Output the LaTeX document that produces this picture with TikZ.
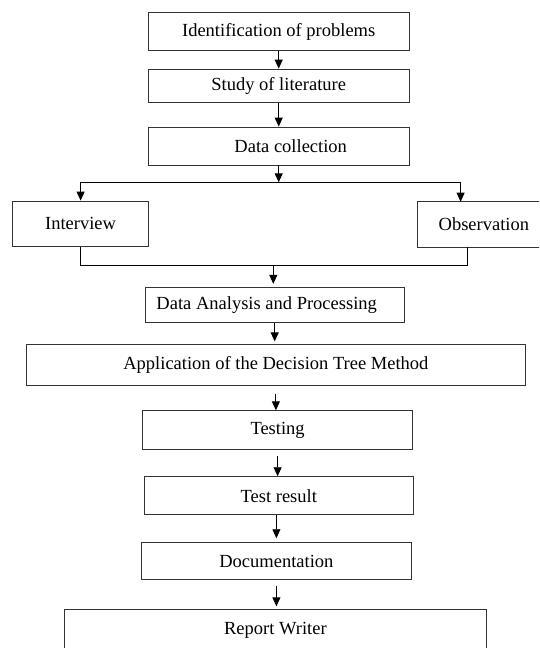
\documentclass[tikz,border=0pt]{standalone}
\usepackage{fontspec}
\setmainfont{Liberation Serif}
\usetikzlibrary{arrows.meta}

\begin{document}
\begin{tikzpicture}[x=1pt,y=-1pt,
  box/.style={draw=black!80, line width=0.9pt, inner sep=0pt, font=\fontsize{18.5}{22}\selectfont},
  link/.style={line width=0.9pt, color=black},
  >={Triangle[length=9pt,width=8pt]}]
\useasboundingbox (0,0) rectangle (539,648);
\clip (0,0) rectangle (539,648);
% steps of the study
\node[box, minimum width=260.5pt, minimum height=38.4pt] (ident) at (278.7,31.5) {Identification of problems};
\node[box, minimum width=260.5pt, minimum height=33.3pt] (study) at (278.7,85.7) {Study of literature};
\node[box, minimum width=260.5pt, minimum height=38pt] (collect) at (278.7,146) {\hspace*{24pt}Data collection};
\node[box, minimum width=136.4pt, minimum height=45.3pt] (iv) at (80.6,223.7) {Interview};
\node[box, minimum width=132.3pt, minimum height=45.3pt] (obs) at (483.9,224.3) {Observation};
\node[box, minimum width=258.6pt, minimum height=35.4pt] (analysis) at (274.7,305) {Data Analysis and Processing\hspace*{16pt}};
\node[box, minimum width=498.8pt, minimum height=40.7pt] (apply) at (275.9,364.7) {Application of the Decision Tree Method};
\node[box, minimum width=269.8pt, minimum height=38.3pt] (testing) at (277.6,429.9) {Testing};
\node[box, minimum width=269.5pt, minimum height=38pt] (result) at (278.8,495.7) {Test result};
\node[box, minimum width=270.2pt, minimum height=37pt] (docu) at (276.4,561.2) {Documentation};
\node[box, minimum width=422.1pt, minimum height=42pt] (report) at (275.4,630.3) {Report Writer};
% branching and joining
\coordinate (fork) at (278.7,182.3);
\coordinate (obsin) at (460.6,201.7);
\coordinate (join) at (273.3,265.7);
\coordinate (obsout) at (467,247);
% connectors
\draw[link,->] (ident.south) -- (study.north);
\draw[link,->] (study.south) -- (collect.north);
\draw[link,->] (collect.south) -- (fork);
\draw[link,->] (fork) -| (iv.north);
\draw[link,->] (fork) -| (obsin);
\draw[link] (iv.south) |- (join) -| (obsout);
\draw[link,->,shorten >=3pt] (join) -- (join |- analysis.north);
\draw[link,->,shorten >=2.5pt] (analysis.south) -- (analysis.south |- apply.north);
\draw[link,->,shorten <=8pt] (apply.south) -- (apply.south |- testing.north);
\draw[link,->,shorten <=6pt] (testing.south) -- (testing.south |- result.north);
\draw[link,->,shorten >=4pt] (result.south -| docu.north) -- (docu.north);
\draw[link,->,shorten <=5.5pt,shorten >=2.5pt] (docu.south) -- (docu.south |- report.north);
\end{tikzpicture}
\end{document}
